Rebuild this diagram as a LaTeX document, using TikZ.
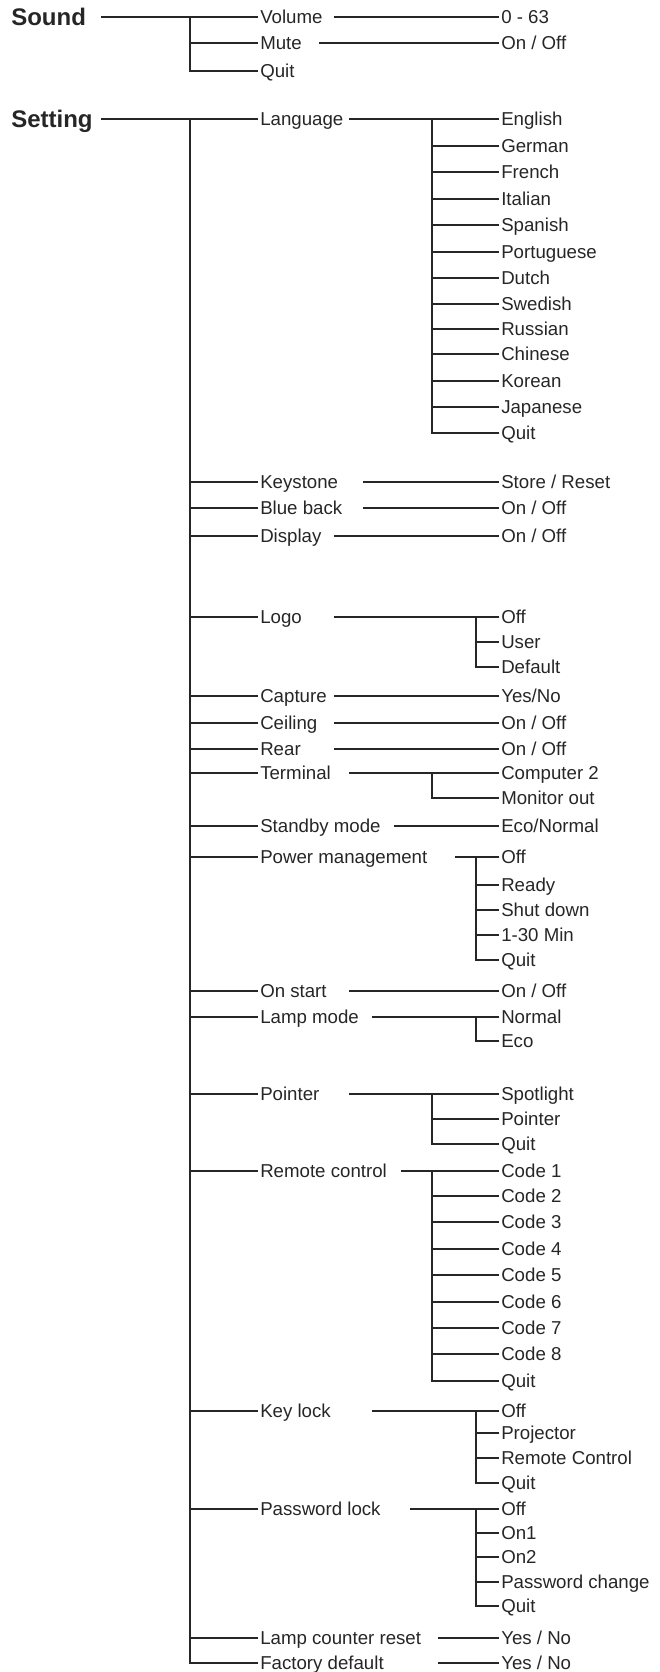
\documentclass[tikz,border=0pt]{standalone}
\usepackage{fontspec}
\setmainfont{Liberation Sans}

\begin{document}
\begin{tikzpicture}[x=0.75pt, y=-0.75pt,
every node/.style={
        font=\fontsize{14}{16}\selectfont, text=black!85
    },
item/.style = {anchor=west, inner xsep=1.5pt, inner ysep=0pt,
               text height=10pt, text depth=0pt},
head/.style = {item, text height=12.9pt,
               font=\fontsize{18}{20}\selectfont\bfseries},
tree/.style = {color=black!85, line width=0.8pt}
    ]
\useasboundingbox (0,0) rectangle (660,1672);

% Sound menu
\node (sound)   [head] at (9,17)    {Sound};
\node (volume)  [item] at (258,17)  {Volume};
\node (mute)    [item] at (258,43)  {Mute};
\node (sndquit) [item] at (258,71)  {Quit};
\node (volval)  [item] at (499,17)  {0 - 63};
\node (muteval) [item] at (499,43)  {On / Off};
\coordinate (sndtrunk) at (190,17);

% Setting menu
\node (setting) [head] at (9,119)   {Setting};
\coordinate (settrunk) at (190,119);
\node (language)  [item] at (258,119)  {Language};
\node (keystone)  [item] at (258,482)  {Keystone};
\node (blueback)  [item] at (258,508)  {Blue back};
\node (display)   [item] at (258,536)  {Display};
\node (logo)      [item] at (258,617)  {Logo};
\node (capture)   [item] at (258,696)  {Capture};
\node (ceiling)   [item] at (258,723)  {Ceiling};
\node (rear)      [item] at (258,749)  {Rear};
\node (terminal)  [item] at (258,773)  {Terminal};
\node (standby)   [item] at (258,826)  {Standby mode};
\node (power)     [item] at (258,857)  {Power management};
\node (onstart)   [item] at (258,991)  {On start};
\node (lampmode)  [item] at (258,1017) {Lamp mode};
\node (pointer)   [item] at (258,1094) {Pointer};
\node (remote)    [item] at (258,1171) {Remote control};
\node (keylock)   [item] at (258,1411) {Key lock};
\node (password)  [item] at (258,1509) {Password lock};
\node (lampreset) [item] at (258,1638) {Lamp counter reset};
\node (factory)   [item] at (258,1663) {Factory default};

% language list
\coordinate (langtrunk) at (432,119);
\node (english)    [item] at (499,119) {English};
\node (german)     [item] at (499,146) {German};
\node (french)     [item] at (499,172) {French};
\node (italian)    [item] at (499,199) {Italian};
\node (spanish)    [item] at (499,225) {Spanish};
\node (portuguese) [item] at (499,252) {Portuguese};
\node (dutch)      [item] at (499,278) {Dutch};
\node (swedish)    [item] at (499,304) {Swedish};
\node (russian)    [item] at (499,329) {Russian};
\node (chinese)    [item] at (499,354) {Chinese};
\node (korean)     [item] at (499,381) {Korean};
\node (japanese)   [item] at (499,407) {Japanese};
\node (langquit)   [item] at (499,433) {Quit};

% single values
\node (kstval)   [item] at (499,482)  {Store / Reset};
\node (blueval)  [item] at (499,508)  {On / Off};
\node (dispval)  [item] at (499,536)  {On / Off};
\node (captval)  [item] at (499,696)  {Yes/No};
\node (ceilval)  [item] at (499,723)  {On / Off};
\node (rearval)  [item] at (499,749)  {On / Off};
\node (standval) [item] at (499,826)  {Eco/Normal};
\node (onstval)  [item] at (499,991)  {On / Off};
\node (lampval)  [item] at (499,1638) {Yes / No};
\node (factval)  [item] at (499,1663) {Yes / No};

% sub lists
\coordinate (logotrunk) at (476,617);
\node (logooff)     [item] at (499,617) {Off};
\node (logouser)    [item] at (499,642) {User};
\node (logodefault) [item] at (499,667) {Default};

\coordinate (termtrunk) at (432,773);
\node (computer)   [item] at (499,773) {Computer 2};
\node (monitorout) [item] at (499,798) {Monitor out};

\coordinate (pwrtrunk) at (476,857);
\node (pwroff)   [item] at (499,857) {Off};
\node (ready)    [item] at (499,885) {Ready};
\node (shutdown) [item] at (499,910) {Shut down};
\node (minutes)  [item] at (499,935) {1-30 Min};
\node (pwrquit)  [item] at (499,960) {Quit};

\coordinate (lamptrunk) at (476,1017);
\node (normal) [item] at (499,1017) {Normal};
\node (eco)    [item] at (499,1041) {Eco};

\coordinate (ptrtrunk) at (432,1094);
\node (spotlight)  [item] at (499,1094) {Spotlight};
\node (ptrpointer) [item] at (499,1119) {Pointer};
\node (ptrquit)    [item] at (499,1144) {Quit};

\coordinate (rctrunk) at (432,1171);
\node (code1)  [item] at (499,1171) {Code 1};
\node (code2)  [item] at (499,1196) {Code 2};
\node (code3)  [item] at (499,1222) {Code 3};
\node (code4)  [item] at (499,1249) {Code 4};
\node (code5)  [item] at (499,1275) {Code 5};
\node (code6)  [item] at (499,1302) {Code 6};
\node (code7)  [item] at (499,1328) {Code 7};
\node (code8)  [item] at (499,1354) {Code 8};
\node (rcquit) [item] at (499,1381) {Quit};

\coordinate (locktrunk) at (476,1411);
\node (keyoff)    [item] at (499,1411) {Off};
\node (projector) [item] at (499,1433) {Projector};
\node (rcontrol)  [item] at (499,1458) {Remote Control};
\node (keyquit)   [item] at (499,1483) {Quit};

\coordinate (pwdtrunk) at (476,1509);
\node (pwdoff)    [item] at (499,1509) {Off};
\node (on1)       [item] at (499,1533) {On1};
\node (on2)       [item] at (499,1557) {On2};
\node (pwdchange) [item] at (499,1582) {Password change};
\node (pwdquit)   [item] at (499,1606) {Quit};

% trunks
\draw[tree] (sndtrunk) |- (sndquit);
\draw[tree] (settrunk) |- (factory);
\draw[tree] (langtrunk) |- (langquit);
\draw[tree] (logotrunk) |- (logodefault);
\draw[tree] (termtrunk) |- (monitorout);
\draw[tree] (pwrtrunk) |- (pwrquit);
\draw[tree] (lamptrunk) |- (eco);
\draw[tree] (ptrtrunk) |- (ptrquit);
\draw[tree] (rctrunk) |- (rcquit);
\draw[tree] (locktrunk) |- (keyquit);
\draw[tree] (pwdtrunk) |- (pwdquit);

\path[tree]
    (101,0 |- sound)     edge (volume)
    (sndtrunk |- mute)   edge (mute)
    (334,0 |- volume)    edge (volval)
    (319,0 |- mute)      edge (muteval)
    (101,0 |- setting)   edge (language)
    (settrunk |- keystone)  edge (keystone)
    (settrunk |- blueback)  edge (blueback)
    (settrunk |- display)   edge (display)
    (settrunk |- logo)      edge (logo)
    (settrunk |- capture)   edge (capture)
    (settrunk |- ceiling)   edge (ceiling)
    (settrunk |- rear)      edge (rear)
    (settrunk |- terminal)  edge (terminal)
    (settrunk |- standby)   edge (standby)
    (settrunk |- power)     edge (power)
    (settrunk |- onstart)   edge (onstart)
    (settrunk |- lampmode)  edge (lampmode)
    (settrunk |- pointer)   edge (pointer)
    (settrunk |- remote)    edge (remote)
    (settrunk |- keylock)   edge (keylock)
    (settrunk |- password)  edge (password)
    (settrunk |- lampreset) edge (lampreset)
    (349,0 |- language)  edge (english)
    (langtrunk |- german)     edge (german)
    (langtrunk |- french)     edge (french)
    (langtrunk |- italian)    edge (italian)
    (langtrunk |- spanish)    edge (spanish)
    (langtrunk |- portuguese) edge (portuguese)
    (langtrunk |- dutch)      edge (dutch)
    (langtrunk |- swedish)    edge (swedish)
    (langtrunk |- russian)    edge (russian)
    (langtrunk |- chinese)    edge (chinese)
    (langtrunk |- korean)     edge (korean)
    (langtrunk |- japanese)   edge (japanese)
    (363,0 |- keystone)  edge (kstval)
    (363,0 |- blueback)  edge (blueval)
    (334,0 |- display)   edge (dispval)
    (334,0 |- logo)      edge (logooff)
    (logotrunk |- logouser) edge (logouser)
    (334,0 |- capture)   edge (captval)
    (334,0 |- ceiling)   edge (ceilval)
    (334,0 |- rear)      edge (rearval)
    (349,0 |- terminal)  edge (computer)
    (394,0 |- standby)   edge (standval)
    (455,0 |- power)     edge (pwroff)
    (pwrtrunk |- ready)    edge (ready)
    (pwrtrunk |- shutdown) edge (shutdown)
    (pwrtrunk |- minutes)  edge (minutes)
    (349,0 |- onstart)   edge (onstval)
    (372,0 |- lampmode)  edge (normal)
    (349,0 |- pointer)   edge (spotlight)
    (ptrtrunk |- ptrpointer) edge (ptrpointer)
    (401,0 |- remote)    edge (code1)
    (rctrunk |- code2) edge (code2)
    (rctrunk |- code3) edge (code3)
    (rctrunk |- code4) edge (code4)
    (rctrunk |- code5) edge (code5)
    (rctrunk |- code6) edge (code6)
    (rctrunk |- code7) edge (code7)
    (rctrunk |- code8) edge (code8)
    (372,0 |- keylock)   edge (keyoff)
    (locktrunk |- projector) edge (projector)
    (locktrunk |- rcontrol)  edge (rcontrol)
    (410,0 |- password)  edge (pwdoff)
    (pwdtrunk |- on1)       edge (on1)
    (pwdtrunk |- on2)       edge (on2)
    (pwdtrunk |- pwdchange) edge (pwdchange)
    (438,0 |- lampreset) edge (lampval)
    (438,0 |- factory)   edge (factval);
\end{tikzpicture}
\end{document}
